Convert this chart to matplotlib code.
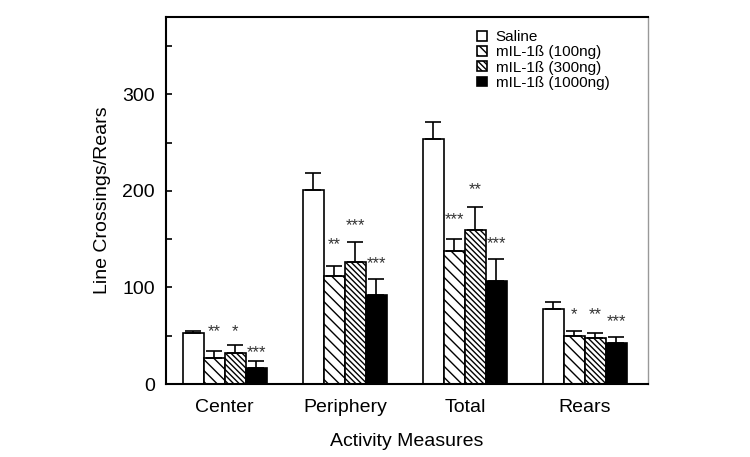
import numpy as np
import matplotlib
matplotlib.use("Agg")
import matplotlib.pyplot as plt
from matplotlib.ticker import MultipleLocator

plt.rcParams['font.family'] = ['Liberation Sans', 'DejaVu Sans']
plt.rcParams['hatch.linewidth'] = 1.0

# data
measures = ['Center', 'Periphery', 'Total', 'Rears']
groups = ['Saline', 'mIL-1ß (100ng)', 'mIL-1ß (300ng)', 'mIL-1ß (1000ng)']
saline = [53, 201, 254, 78]
il_100 = [27, 112, 138, 50]
il_300 = [32, 126, 159, 48]
il_1000 = [17, 92, 107, 42]
saline_err = [2, 17, 17, 7]
il_100_err = [7, 10, 12, 5]
il_300_err = [8, 21, 24, 5]
il_1000_err = [7, 17, 22, 7]

# significance marks (per dose group, per measure) and label heights
stars_100 = ['**', '**', '***', '*']
stars_300 = ['*', '***', '**', '**']
stars_1000 = ['***', '***', '***', '***']
star_y_100 = [54, 144, 170, 72]
star_y_300 = [54, 164, 201, 72]
star_y_1000 = [33, 125, 145, 65]

values = [saline, il_100, il_300, il_1000]
errors = [saline_err, il_100_err, il_300_err, il_1000_err]
stars = [None, stars_100, stars_300, stars_1000]
star_y = [None, star_y_100, star_y_300, star_y_1000]
styles = [
    dict(facecolor='white', hatch=None),
    dict(facecolor='white', hatch='\\\\\\'),
    dict(facecolor='white', hatch='\\\\\\\\\\\\'),
    dict(facecolor='black', hatch=None),
]

fig = plt.figure(figsize=(7.5, 4.57), dpi=100)
ax = fig.add_axes([0.2213, 0.1597, 0.6427, 0.8031])

x = np.arange(len(measures))
width = 0.175
for i in range(4):
    pos = x + (i - 1.5) * width
    ax.bar(pos, values[i], width, edgecolor='black', linewidth=1.2,
           label=groups[i], zorder=2, **styles[i])
    ax.errorbar(pos, values[i], yerr=[np.zeros(4), errors[i]], fmt='none',
                ecolor='black', elinewidth=1.2, capsize=5.5, capthick=1.2, zorder=3)
    if stars[i] is not None:
        for p, s, yy in zip(pos, stars[i], star_y[i]):
            ax.text(p, yy, s, ha='center', va='center', fontsize=12, color='#333333')

ax.set_xlim(-0.49, 3.525)
ax.set_ylim(0, 380)
ax.set_xticks(x)
ax.set_xticklabels(measures, fontsize=14)
ax.tick_params(axis='x', length=0, pad=11)
ax.yaxis.set_major_locator(MultipleLocator(100))
ax.yaxis.set_minor_locator(MultipleLocator(50))
ax.tick_params(axis='y', which='both', direction='in', length=4, width=1.2, labelsize=14, pad=8)

for side in ['left', 'top', 'bottom']:
    ax.spines[side].set_linewidth(1.5)
ax.spines['right'].set_linewidth(1.0)
ax.spines['right'].set_color('#999999')

ax.set_ylabel('Line Crossings/Rears', fontsize=14, labelpad=8)
ax.set_xlabel('Activity Measures', fontsize=14, labelpad=12)

ax.legend(loc='upper left', bbox_to_anchor=(0.63, 0.985), frameon=False,
          fontsize=11, handlelength=0.65, handleheight=0.6, handletextpad=0.55,
          labelspacing=0.08, borderpad=0)

fig.savefig('out.png', dpi=100)
